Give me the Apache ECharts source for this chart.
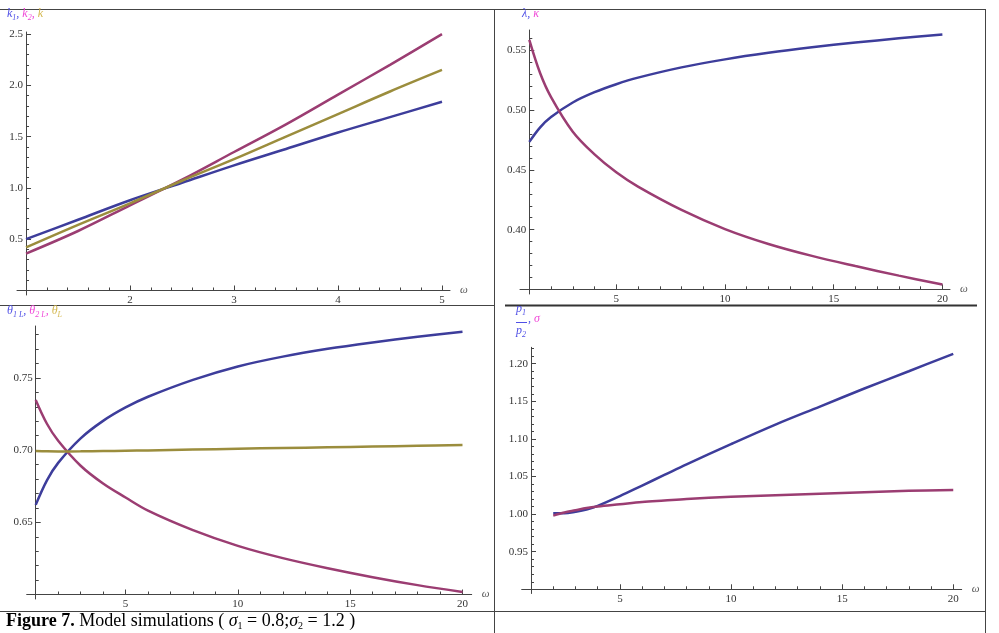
<!DOCTYPE html>
<html>
<head>
<meta charset="utf-8">
<script src="https://cdn.jsdelivr.net/npm/echarts@6/dist/echarts.min.js"></script>
<style>
html, body { margin: 0; padding: 0; background: #fff; }
#chart { width: 999px; height: 633px; }
</style>
</head>
<body>
<div id="chart"></div>
<script>
// panel 1: k1, k2, k against omega
var omegaK = [1, 1.5, 2, 2.5, 3, 3.5, 4, 4.5, 5];
var k1 = [0.50, 0.69, 0.88, 1.05, 1.22, 1.38, 1.54, 1.69, 1.84];
var k2 = [0.36, 0.58, 0.83, 1.08, 1.35, 1.62, 1.91, 2.20, 2.50];
var kAll = [0.42, 0.64, 0.85, 1.07, 1.28, 1.50, 1.72, 1.94, 2.15];

// panel 2: lambda, kappa
var omegaL = [1, 1.5, 2, 3, 4, 5, 6, 8, 10, 12, 14, 16, 18, 20];
var lambda = [0.4735, 0.4857, 0.4943, 0.5065, 0.5151, 0.5218, 0.5273, 0.5359, 0.5426, 0.5481, 0.5527, 0.5567, 0.5602, 0.5634];
var kappa = [0.559, 0.531, 0.511, 0.482, 0.463, 0.448, 0.436, 0.4165, 0.4005, 0.388, 0.378, 0.3695, 0.3615, 0.354];

// panel 3: theta1L, theta2L, thetaL
var theta1L = [0.6621, 0.6791, 0.6912, 0.7082, 0.7203, 0.7296, 0.7370, 0.7487, 0.7580, 0.7648, 0.7702, 0.7746, 0.7785, 0.7820];
var theta2L = [0.7348, 0.7183, 0.7065, 0.6892, 0.6769, 0.6672, 0.6581, 0.6446, 0.6337, 0.6252, 0.6182, 0.6120, 0.6065, 0.6018];
var thetaL = [0.6995, 0.6992, 0.6991, 0.6992, 0.6994, 0.6996, 0.6998, 0.7004, 0.7010, 0.7015, 0.7020, 0.7025, 0.7030, 0.7035];

// panel 4: p1/p2, sigma
var omegaP = [2, 2.5, 3, 3.5, 4, 5, 6, 7, 8, 10, 12, 14, 16, 18, 20];
var priceRatio = [1.001, 1.001, 1.003, 1.006, 1.011, 1.024, 1.038, 1.052, 1.066, 1.093, 1.119, 1.143, 1.167, 1.190, 1.213];
var sigmaVals = [0.998, 1.002, 1.005, 1.008, 1.010, 1.013, 1.016, 1.018, 1.020, 1.023, 1.025, 1.027, 1.029, 1.031, 1.032];

// tick labels
var xTicksK = [2, 3, 4, 5];
var xTicksW = [5, 10, 15, 20];
var yTicksK = [0.5, 1.0, 1.5, 2.0, 2.5];
var yTicksL = [0.40, 0.45, 0.50, 0.55];
var yTicksT = [0.65, 0.70, 0.75];
var yTicksP = [0.95, 1.00, 1.05, 1.10, 1.15, 1.20];

var BLUE = '#3d3d9b', RED = '#9b3d72', GOLD = '#9b8d3d';
var AXIS = '#444';
var SERIF = '"Liberation Serif", "DejaVu Serif", serif';

function minorTicks(from, to, step, majors) {
    var out = [];
    for (var v = from; v <= to + step / 2; v += step) {
        var r = Math.round(v * 10000) / 10000;
        var isMajor = majors.some(function (m) { return Math.abs(m - r) < step / 10; });
        if (!isMajor) out.push(r);
    }
    return out;
}

function pairs(xs, ys) {
    return xs.map(function (x, i) { return [x, ys[i]]; });
}

var panels = [
    {grid: {left: 17, top: 32, width: 433, height: 263}, x: [0.913, 5.077], y: [-0.044, 2.52], origin: [1, 0],
        xMajor: xTicksK, xMinor: minorTicks(1.2, 4.8, 0.2, xTicksK), yMajor: yTicksK, yMinor: minorTicks(0.1, 2.4, 0.1, yTicksK), digits: 1,
        series: [[omegaK, k1, BLUE], [omegaK, k2, RED], [omegaK, kAll, GOLD]]},
    {grid: {left: 520, top: 30, width: 430, height: 264}, x: [0.572, 20.35], y: [0.3461, 0.5672], origin: [1, 0.35],
        xMajor: xTicksW, xMinor: minorTicks(2, 19, 1, xTicksW), yMajor: yTicksL, yMinor: minorTicks(0.36, 0.56, 0.01, yTicksL), digits: 2,
        series: [[omegaL, lambda, BLUE], [omegaL, kappa, RED]]},
    {grid: {left: 26.7, top: 326, width: 445, height: 273}, x: [0.599, 20.41], y: [0.5969, 0.786], origin: [1, 0.60],
        xMajor: xTicksW, xMinor: minorTicks(2, 19, 1, xTicksW), yMajor: yTicksT, yMinor: minorTicks(0.61, 0.78, 0.01, yTicksT), digits: 2,
        series: [[omegaL, theta1L, BLUE], [omegaL, theta2L, RED], [omegaL, thetaL, GOLD]]},
    {grid: {left: 521.7, top: 347.3, width: 440, height: 246.2}, x: [0.581, 20.38], y: [0.8944, 1.2218], origin: [1, 0.90],
        xMajor: xTicksW, xMinor: minorTicks(2, 19, 1, xTicksW), yMajor: yTicksP, yMinor: minorTicks(0.91, 1.22, 0.01, yTicksP), digits: 2,
        series: [[omegaP, priceRatio, BLUE], [omegaP, sigmaVals, RED]]}
];

var grids = [], xAxes = [], yAxes = [], series = [];
panels.forEach(function (p, i) {
    grids.push(p.grid);
    // shift axes so they cross at the origin, like Mathematica does
    var yAxisShift = -(p.origin[0] - p.x[0]) * p.grid.width / (p.x[1] - p.x[0]);
    var xAxisShift = -(p.origin[1] - p.y[0]) * p.grid.height / (p.y[1] - p.y[0]);

    xAxes.push({
        type: 'value', gridIndex: i, position: 'bottom', offset: xAxisShift, min: p.x[0], max: p.x[1],
        name: 'ω', nameLocation: 'end', nameGap: 10,
        nameTextStyle: {color: '#555', fontFamily: SERIF, fontStyle: 'italic', fontSize: 11},
        axisLine: {show: true, lineStyle: {color: AXIS, width: 1}},
        axisTick: {show: true, inside: true, length: 5, customValues: p.xMajor, lineStyle: {color: AXIS}},
        axisLabel: {show: true, customValues: p.xMajor, margin: 4, formatter: function (v) { return String(v); }, color: '#333', fontFamily: SERIF, fontSize: 11},
        splitLine: {show: false}
    });
    xAxes.push({
        type: 'value', gridIndex: i, position: 'bottom', offset: xAxisShift, min: p.x[0], max: p.x[1],
        axisLine: {show: false},
        axisTick: {show: true, inside: true, length: 3, customValues: p.xMinor, lineStyle: {color: AXIS}},
        axisLabel: {show: false},
        splitLine: {show: false}
    });
    yAxes.push({
        type: 'value', gridIndex: i, position: 'left', offset: yAxisShift, min: p.y[0], max: p.y[1],
        axisLine: {show: true, lineStyle: {color: AXIS, width: 1}},
        axisTick: {show: true, inside: true, length: 5, customValues: p.yMajor, lineStyle: {color: AXIS}},
        axisLabel: {show: true, customValues: p.yMajor, margin: 3, formatter: function (v) { return v.toFixed(p.digits); }, color: '#333', fontFamily: SERIF, fontSize: 11},
        splitLine: {show: false}
    });
    yAxes.push({
        type: 'value', gridIndex: i, position: 'left', offset: yAxisShift, min: p.y[0], max: p.y[1],
        axisLine: {show: false},
        axisTick: {show: true, inside: true, length: 3, customValues: p.yMinor, lineStyle: {color: AXIS}},
        axisLabel: {show: false},
        splitLine: {show: false}
    });

    p.series.forEach(function (s) {
        series.push({
            type: 'line', xAxisIndex: 2 * i, yAxisIndex: 2 * i,
            data: pairs(s[0], s[1]),
            showSymbol: false, smooth: 0.35,
            lineStyle: {color: s[2], width: 2.5},
            itemStyle: {color: s[2]},
            silent: true
        });
    });
});

function hdr(fill, size, lh, sub) {
    var st = {fill: fill, fontFamily: SERIF, fontStyle: 'italic', fontSize: size, lineHeight: lh};
    if (sub) st.verticalAlign = 'bottom';
    return st;
}
var hdrRich = {
    b: hdr('#5050e6', 12, 15), bs: hdr('#5050e6', 8, 10, true),
    m: hdr('#f048d8', 12, 15), ms: hdr('#f048d8', 8, 10, true),
    y: hdr('#d4b850', 12, 15), ys: hdr('#d4b850', 8, 10, true)
};

function hline(x1, x2, y, w, c) {
    return {type: 'line', shape: {x1: x1, y1: y, x2: x2, y2: y}, style: {stroke: c || '#444', lineWidth: w || 1}, z: 10};
}
function vline(x, y1, y2, w, c) {
    return {type: 'line', shape: {x1: x, y1: y1, x2: x, y2: y2}, style: {stroke: c || '#444', lineWidth: w || 1}, z: 10};
}

var capFont = {fontFamily: SERIF, fontSize: 18, fill: '#000', lineHeight: 20};
var graphics = [
    hline(0, 986, 9.5),
    hline(0, 494, 305.5),
    hline(505, 977, 305.5, 2, '#333'),
    hline(0, 986, 611.5),
    vline(494.5, 9, 633),
    vline(985.5, 9, 633),
    {type: 'text', left: 7, top: 8, z: 10, style: {text: '{b|k}{bs|1}{b|, }{m|k}{ms|2}{m|, }{y|k}', rich: hdrRich}},
    {type: 'text', left: 522, top: 8, z: 10, style: {text: '{b|λ, }{m|κ}', rich: hdrRich}},
    {type: 'text', left: 7, top: 305, z: 10, style: {text: '{b|θ}{bs|1 L}{b|, }{m|θ}{ms|2 L}{m|, }{y|θ}{ys|L}', rich: hdrRich}},
    {type: 'text', left: 516, top: 303, z: 10, style: {text: '{b|p}{bs|1}', rich: hdrRich}},
    hline(516, 527, 322.5, 1, '#5050e6'),
    {type: 'text', left: 516, top: 325, z: 10, style: {text: '{b|p}{bs|2}', rich: hdrRich}},
    {type: 'text', left: 528, top: 313, z: 10, style: {text: '{b|, }{m|σ}', rich: hdrRich}},
    {type: 'text', left: 6, top: 612, z: 10, style: {
        text: '{bd|Figure 7.}{n| Model simulations ( }{i|σ}{s|1}{n| = 0.8;}{i|σ}{s|2}{n| = 1.2 )}',
        rich: {
            bd: Object.assign({fontWeight: 'bold'}, capFont),
            n: capFont,
            i: Object.assign({fontStyle: 'italic'}, capFont),
            s: {fontFamily: SERIF, fontSize: 10, fill: '#000', lineHeight: 12, verticalAlign: 'bottom'}
        }
    }}
];

var chart = echarts.init(document.getElementById('chart'), null, {renderer: 'canvas'});
chart.setOption({
    backgroundColor: '#fff',
    animation: false,
    grid: grids,
    xAxis: xAxes,
    yAxis: yAxes,
    series: series,
    graphic: graphics
});
</script>
</body>
</html>
